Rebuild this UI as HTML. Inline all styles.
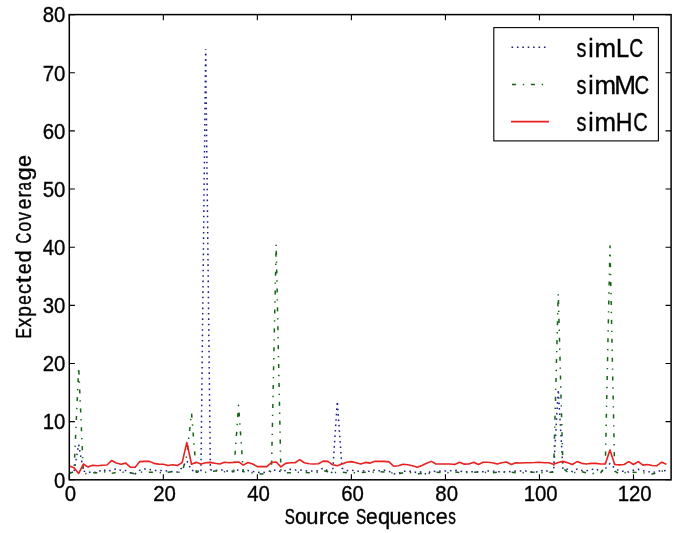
<!DOCTYPE html><html><head><meta charset="utf-8"><style>html,body{margin:0;padding:0;background:#fff;}svg{display:block;filter:blur(0.3px);}text{font-family:"Liberation Sans",sans-serif;fill:#000;stroke:#000;stroke-width:0.35px;}</style></head><body>
<svg width="685" height="533" viewBox="0 0 685 533">
<rect width="685" height="533" fill="#fff"/>
<defs><clipPath id="c"><rect x="69.3" y="14.6" width="601.80" height="465.20"/></clipPath></defs>
<g clip-path="url(#c)" fill="none" stroke-linejoin="round">
<polyline points="69.30,472.82 74.00,471.66 78.70,444.62 83.40,471.08 88.11,472.24 92.81,472.24 97.51,472.53 102.21,469.33 106.91,471.08 111.61,470.50 116.32,468.75 121.02,470.50 125.72,470.50 130.42,472.82 135.12,473.99 139.82,470.21 144.53,469.04 149.23,469.33 153.93,470.50 158.63,470.61 163.33,470.61 168.03,471.08 172.73,471.66 177.44,471.95 182.14,467.70 186.84,460.78 191.54,470.50 196.24,470.79 200.94,471.66" stroke="#1e1e8a" stroke-width="1.5" stroke-dasharray="1.6 3.8"/>
<polyline points="200.94,471.66 205.65,49.49" stroke="#1e1e8a" stroke-width="1.5" stroke-dasharray="1.6 3.8" stroke-dashoffset="4.89"/>
<polyline points="205.65,49.49 210.35,469.91" stroke="#1e1e8a" stroke-width="1.5" stroke-dasharray="1.6 3.8" stroke-dashoffset="1.14"/>
<polyline points="210.35,469.91 215.05,470.50 219.75,469.91 224.45,470.21 229.15,471.66 233.85,470.79 238.56,469.91 243.26,471.37 247.96,470.50 252.66,471.37 257.36,472.24 262.06,472.82 266.77,471.95 271.47,470.50 276.17,469.91 280.87,471.66 285.57,470.50 290.27,469.33 294.98,469.91 299.68,469.91 304.38,470.79 309.08,471.08 313.78,471.08 318.48,470.79 323.18,468.17 327.89,470.79 332.59,472.82 337.29,401.30 341.99,468.17 346.69,470.50 351.39,470.21 356.10,471.08 360.80,471.37 365.50,470.50 370.20,471.66 374.90,469.91 379.60,470.79 384.30,470.21 389.01,471.37 393.71,473.99 398.41,473.40 403.11,471.08 407.81,471.37 412.51,471.37 417.22,472.82 421.92,471.66 426.62,474.57 431.32,470.79 436.02,471.66 440.72,471.08 445.43,471.08 450.13,470.79 454.83,470.21 459.53,471.08 464.23,471.95 468.93,471.66 473.63,471.66 478.34,471.95 483.04,471.66 487.74,471.08 492.44,471.08 497.14,471.66 501.84,471.66 506.55,471.95 511.25,471.37 515.95,471.08 520.65,471.08 525.35,471.08 530.05,471.66 534.75,471.95 539.46,471.66 544.16,469.91 548.86,471.66 553.56,471.66 558.26,389.67 562.96,469.33 567.67,469.33 572.37,471.66 577.07,469.04 581.77,470.50 586.47,470.79 591.17,469.45 595.88,468.75 600.58,472.24 605.28,468.75 609.98,463.52 614.68,468.17 619.38,471.08 624.08,471.37 628.79,471.95 633.49,470.21 638.19,469.33 642.89,470.79 647.59,471.37 652.29,472.82 657.00,471.08 661.70,471.08 666.40,470.50" stroke="#1e1e8a" stroke-width="1.5" stroke-dasharray="1.6 3.8"/>
<polyline points="69.30,473.40 74.00,471.66 78.70,366.99 83.40,473.99 88.11,473.40 92.81,472.82 97.51,472.82 102.21,472.24 106.91,471.66 111.61,473.40 116.32,472.24 121.02,472.24 125.72,472.24 130.42,472.82 135.12,473.99 139.82,472.24 144.53,471.83 149.23,472.24 153.93,472.24 158.63,472.24 163.33,473.29 168.03,472.24 172.73,471.66 177.44,472.24 182.14,472.24 186.84,455.38 191.54,412.93 196.24,472.24 200.94,472.24 205.65,472.24 210.35,471.66 215.05,471.08 219.75,471.08 224.45,471.66 229.15,471.66 233.85,471.66 238.56,405.37 243.26,471.66 247.96,472.24 252.66,472.82 257.36,473.40 262.06,473.99 266.77,472.82 271.47,471.08 276.17,244.29 280.87,471.08 285.57,472.82 290.27,472.82 294.98,472.24 299.68,472.24 304.38,472.53 309.08,472.82 313.78,472.82 318.48,472.24 323.18,470.50 327.89,471.66 332.59,472.82 337.29,472.24 341.99,472.24 346.69,472.82 351.39,472.82 356.10,472.82 360.80,472.53 365.50,472.24 370.20,471.95 374.90,472.24 379.60,471.66 384.30,471.95 389.01,472.24 393.71,473.40 398.41,473.99 403.11,472.82 407.81,472.24 412.51,472.82 417.22,473.69 421.92,473.40 426.62,473.99 431.32,472.82 436.02,472.24 440.72,472.53 445.43,472.24 450.13,472.82 454.83,471.95 459.53,472.53 464.23,472.24 468.93,472.82 473.63,472.24 478.34,471.95 483.04,472.53 487.74,472.24 492.44,472.82 497.14,472.24 501.84,471.95 506.55,472.53 511.25,472.24 515.95,472.82 520.65,472.53 525.35,472.82 530.05,472.24 534.75,472.24 539.46,472.53 544.16,472.82 548.86,472.24 553.56,472.24 558.26,293.72 562.96,468.17 567.67,472.24 572.37,472.82 577.07,472.24 581.77,471.66 586.47,472.82 591.17,473.99 595.88,472.82 600.58,472.82 605.28,467.01 609.98,246.04 614.68,471.08 619.38,473.99 624.08,472.82 628.79,472.24 633.49,472.24 638.19,472.53 642.89,472.82 647.59,473.40 652.29,473.99 657.00,472.82 661.70,471.08 666.40,471.66" stroke="#166216" stroke-width="1.5" stroke-dasharray="4.05 6.75 1.35 6.75"/>
<polyline points="69.30,465.96 74.00,467.76 78.70,473.40 83.40,464.04 88.11,467.07 92.81,465.26 97.51,465.73 102.21,465.26 106.91,464.97 111.61,460.55 116.32,462.94 121.02,464.33 125.72,463.11 130.42,467.18 135.12,467.18 139.82,461.60 144.53,461.37 149.23,461.37 153.93,463.34 158.63,464.16 163.33,464.27 168.03,465.44 172.73,464.68 177.44,465.55 182.14,462.65 186.84,442.41 191.54,464.22 196.24,462.36 200.94,463.93 205.65,462.82 210.35,462.41 215.05,463.29 219.75,463.98 224.45,462.18 229.15,462.76 233.85,462.41 238.56,461.95 243.26,465.15 247.96,462.53 252.66,463.98 257.36,466.66 262.06,466.66 266.77,466.66 271.47,462.53 276.17,461.95 280.87,466.89 285.57,463.34 290.27,462.76 294.98,462.76 299.68,459.62 304.38,462.76 309.08,463.69 313.78,463.98 318.48,463.69 323.18,461.08 327.89,461.37 332.59,464.80 337.29,465.73 341.99,463.98 346.69,462.18 351.39,461.60 356.10,462.76 360.80,463.98 365.50,462.41 370.20,463.11 374.90,461.37 379.60,461.25 384.30,461.37 389.01,461.83 393.71,466.25 398.41,465.67 403.11,464.27 407.81,464.74 412.51,465.67 417.22,467.18 421.92,465.44 426.62,463.34 431.32,461.37 436.02,463.98 440.72,463.98 445.43,463.98 450.13,463.98 454.83,464.51 459.53,462.18 464.23,464.16 468.93,463.98 473.63,462.18 478.34,464.51 483.04,462.18 487.74,462.18 492.44,462.76 497.14,463.98 501.84,462.76 506.55,461.95 511.25,464.51 515.95,462.76 520.65,462.99 525.35,462.76 530.05,462.76 534.75,462.53 539.46,462.18 544.16,462.76 548.86,462.76 553.56,464.27 558.26,462.53 562.96,461.37 567.67,462.76 572.37,464.51 577.07,461.60 581.77,463.34 586.47,463.98 591.17,463.34 595.88,463.34 600.58,463.98 605.28,463.98 609.98,449.97 614.68,464.51 619.38,464.91 624.08,464.51 628.79,461.60 633.49,464.51 638.19,461.60 642.89,465.15 647.59,464.51 652.29,465.44 657.00,465.73 661.70,462.18 666.40,464.27" stroke="#e82020" stroke-width="1.6"/>
</g>
<path d="M69.30,479.8v-5.6M69.30,14.6v5.6M163.33,479.8v-5.6M163.33,14.6v5.6M257.36,479.8v-5.6M257.36,14.6v5.6M351.39,479.8v-5.6M351.39,14.6v5.6M445.43,479.8v-5.6M445.43,14.6v5.6M539.46,479.8v-5.6M539.46,14.6v5.6M633.49,479.8v-5.6M633.49,14.6v5.6M69.3,479.80h5.6M671.1,479.80h-5.6M69.3,421.65h5.6M671.1,421.65h-5.6M69.3,363.50h5.6M671.1,363.50h-5.6M69.3,305.35h5.6M671.1,305.35h-5.6M69.3,247.20h5.6M671.1,247.20h-5.6M69.3,189.05h5.6M671.1,189.05h-5.6M69.3,130.90h5.6M671.1,130.90h-5.6M69.3,72.75h5.6M671.1,72.75h-5.6M69.3,14.60h5.6M671.1,14.60h-5.6" stroke="#000" stroke-width="1.1" fill="none"/>
<rect x="69.3" y="14.6" width="601.80" height="465.20" fill="none" stroke="#000" stroke-width="1.5"/>
<text transform="translate(70.50,500.90) scale(0.91,1)" font-size="22.4" text-anchor="middle">0</text>
<text transform="translate(164.53,500.90) scale(0.91,1)" font-size="22.4" text-anchor="middle">20</text>
<text transform="translate(258.56,500.90) scale(0.91,1)" font-size="22.4" text-anchor="middle">40</text>
<text transform="translate(352.59,500.90) scale(0.91,1)" font-size="22.4" text-anchor="middle">60</text>
<text transform="translate(446.63,500.90) scale(0.91,1)" font-size="22.4" text-anchor="middle">80</text>
<text transform="translate(540.66,500.90) scale(0.91,1)" font-size="22.4" text-anchor="middle">100</text>
<text transform="translate(634.69,500.90) scale(0.91,1)" font-size="22.4" text-anchor="middle">120</text>
<text transform="translate(65.40,487.60) scale(0.91,1)" font-size="22.4" text-anchor="end">0</text>
<text transform="translate(65.40,429.45) scale(0.91,1)" font-size="22.4" text-anchor="end">10</text>
<text transform="translate(65.40,371.30) scale(0.91,1)" font-size="22.4" text-anchor="end">20</text>
<text transform="translate(65.40,313.15) scale(0.91,1)" font-size="22.4" text-anchor="end">30</text>
<text transform="translate(65.40,255.00) scale(0.91,1)" font-size="22.4" text-anchor="end">40</text>
<text transform="translate(65.40,196.85) scale(0.91,1)" font-size="22.4" text-anchor="end">50</text>
<text transform="translate(65.40,138.70) scale(0.91,1)" font-size="22.4" text-anchor="end">60</text>
<text transform="translate(65.40,80.55) scale(0.91,1)" font-size="22.4" text-anchor="end">70</text>
<text transform="translate(65.40,22.40) scale(0.91,1)" font-size="22.4" text-anchor="end">80</text>
<g transform="translate(0,523.7)"><text transform="translate(284.78,0) scale(0.714,1)" font-size="21.3">S</text><text transform="translate(295.09,0) scale(0.989,1)" font-size="21.3">o</text><text transform="translate(306.25,0) scale(1.033,1)" font-size="21.3">u</text><text transform="translate(318.71,0) scale(1.174,1)" font-size="21.3">r</text><text transform="translate(326.91,0) scale(0.953,1)" font-size="21.3">c</text><text transform="translate(337.35,0) scale(1.026,1)" font-size="21.3">e</text><text transform="translate(355.88,0) scale(0.722,1)" font-size="21.3">S</text><text transform="translate(365.98,0) scale(0.986,1)" font-size="21.3">e</text><text transform="translate(377.96,0) scale(1.027,1)" font-size="21.3">q</text><text transform="translate(389.58,0) scale(1.011,1)" font-size="21.3">u</text><text transform="translate(401.31,0) scale(0.955,1)" font-size="21.3">e</text><text transform="translate(413.38,0) scale(0.989,1)" font-size="21.3">n</text><text transform="translate(425.22,0) scale(0.942,1)" font-size="21.3">c</text><text transform="translate(435.66,0) scale(1.016,1)" font-size="21.3">e</text><text transform="translate(448.35,0) scale(0.716,1)" font-size="21.3">s</text></g>
<g transform="translate(31.0,0) rotate(-90)"><text transform="translate(-338.42,0) scale(0.741,1)" font-size="21.3">E</text><text transform="translate(-327.14,0) scale(0.879,1)" font-size="21.3">x</text><text transform="translate(-316.75,0) scale(0.893,1)" font-size="21.3">p</text><text transform="translate(-304.86,0) scale(0.815,1)" font-size="21.3">e</text><text transform="translate(-293.88,0) scale(0.942,1)" font-size="21.3">c</text><text transform="translate(-283.13,0) scale(1.241,1)" font-size="21.3">t</text><text transform="translate(-274.04,0) scale(0.905,1)" font-size="21.3">e</text><text transform="translate(-262.54,0) scale(1.028,1)" font-size="21.3">d</text><text transform="translate(-243.38,0) scale(0.701,1)" font-size="21.3">C</text><text transform="translate(-231.47,0) scale(0.830,1)" font-size="21.3">o</text><text transform="translate(-220.48,0) scale(0.795,1)" font-size="21.3">v</text><text transform="translate(-209.34,0) scale(0.895,1)" font-size="21.3">e</text><text transform="translate(-197.61,0) scale(0.911,1)" font-size="21.3">r</text><text transform="translate(-190.57,0) scale(0.708,1)" font-size="21.3">a</text><text transform="translate(-180.53,0) scale(1.122,1)" font-size="21.3">g</text><text transform="translate(-167.03,0) scale(1.006,1)" font-size="21.3">e</text></g>
<rect x="493.8" y="27.6" width="164.6" height="113.3" fill="#fff" stroke="#000" stroke-width="1.1"/>
<line x1="511.5" y1="47.3" x2="548.9" y2="47.3" stroke="#1e1e8a" stroke-width="1.5" stroke-dasharray="1.6 3.8"/>
<line x1="512.0" y1="84.5" x2="548.9" y2="84.5" stroke="#166216" stroke-width="1.5" stroke-dasharray="4.05 6.75 1.35 6.75"/>
<line x1="511" y1="121.6" x2="548.9" y2="121.6" stroke="#e82020" stroke-width="1.6"/>
<text transform="translate(576.62,56.6) scale(0.751,1)" font-size="26.4">s</text>
<text transform="translate(588.24,56.6) scale(0.927,1)" font-size="26.4">i</text>
<text transform="translate(594.45,56.6) scale(0.981,1)" font-size="26.4">m</text>
<text transform="translate(615.93,56.6) scale(0.898,1)" font-size="26.4">L</text>
<text transform="translate(629.19,56.6) scale(0.733,1)" font-size="26.4">C</text>
<text transform="translate(576.62,93.7) scale(0.751,1)" font-size="26.4">s</text>
<text transform="translate(588.24,93.7) scale(0.927,1)" font-size="26.4">i</text>
<text transform="translate(594.45,93.7) scale(0.981,1)" font-size="26.4">m</text>
<text transform="translate(614.14,93.7) scale(0.988,1)" font-size="26.4">M</text>
<text transform="translate(634.54,93.7) scale(0.769,1)" font-size="26.4">C</text>
<text transform="translate(576.62,130.8) scale(0.751,1)" font-size="26.4">s</text>
<text transform="translate(588.24,130.8) scale(0.927,1)" font-size="26.4">i</text>
<text transform="translate(594.45,130.8) scale(0.981,1)" font-size="26.4">m</text>
<text transform="translate(615.77,130.8) scale(0.878,1)" font-size="26.4">H</text>
<text transform="translate(633.15,130.8) scale(0.763,1)" font-size="26.4">C</text>
</svg></body></html>
